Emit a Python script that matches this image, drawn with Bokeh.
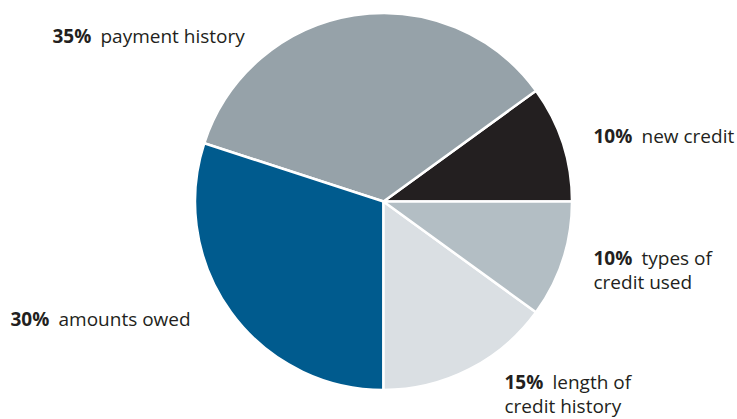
import math
from bokeh.plotting import figure
from bokeh.models import Range1d, ColumnDataSource
from bokeh.core.properties import value
from bokeh.embed import file_html
from bokeh.resources import INLINE

# Data (counter-clockwise from 3 o'clock)
categories = ["new credit", "payment history", "amounts owed", "length of credit history", "types of credit used"]
percents = [10, 35, 30, 15, 10]
colors = ["#231F20", "#96A2A9", "#005B8E", "#DADFE3", "#B3BEC4"]
pct_labels = ["10%", "35%", "30%", "15%", "10%"]
desc_lines = [["new credit"], ["payment history"], ["amounts owed"], ["length of", "credit history"], ["types of", "credit used"]]

W, H = 737, 419
p = figure(width=W, height=H, output_backend="svg", toolbar_location=None,
           x_range=Range1d(0, W), y_range=Range1d(0, H),
           min_border=0, min_border_left=0, min_border_right=0,
           min_border_top=0, min_border_bottom=0)
p.axis.visible = False
p.grid.visible = False
p.outline_line_color = None
p.background_fill_color = "white"
p.border_fill_color = "white"

def Y(sy):
    return H - sy

cx, cy, r = 383, Y(201), 188.5
total = sum(percents)
starts, ends = [], []
acc = 0.0
for v in percents:
    starts.append(2 * math.pi * acc / total)
    acc += v
    ends.append(2 * math.pi * acc / total)

src = ColumnDataSource(dict(start=starts, end=ends, color=colors, cat=categories))
p.wedge(x=cx, y=cy, radius=r, start_angle="start", end_angle="end",
        fill_color="color", line_color="white", line_width=2.5, source=src)

# label layout: (x of bold, baseline screen y of first line)
label_pos = [(593, 135), (52, 35), (10, 318), (504, 381), (593, 257)]
line_gap = 24.5
offset = 48
font = value("Open Sans")
for (lx, ly), pl, lines in zip(label_pos, pct_labels, desc_lines):
    p.text(x=[lx], y=[Y(ly)], text=[pl], text_font=font, text_font_style="bold",
           text_font_size="19px", text_color="#231F20", text_baseline="alphabetic",
           text_align="left")
    p.text(x=[lx + offset], y=[Y(ly)], text=[lines[0]], text_font=font,
           text_font_size="19px", text_color="#231F20", text_baseline="alphabetic",
           text_align="left")
    for i, ln in enumerate(lines[1:], start=1):
        p.text(x=[lx], y=[Y(ly + i * line_gap)], text=[ln], text_font=font,
               text_font_size="19px", text_color="#231F20", text_baseline="alphabetic",
               text_align="left")

open("out.html", "w").write(file_html(p, INLINE))
